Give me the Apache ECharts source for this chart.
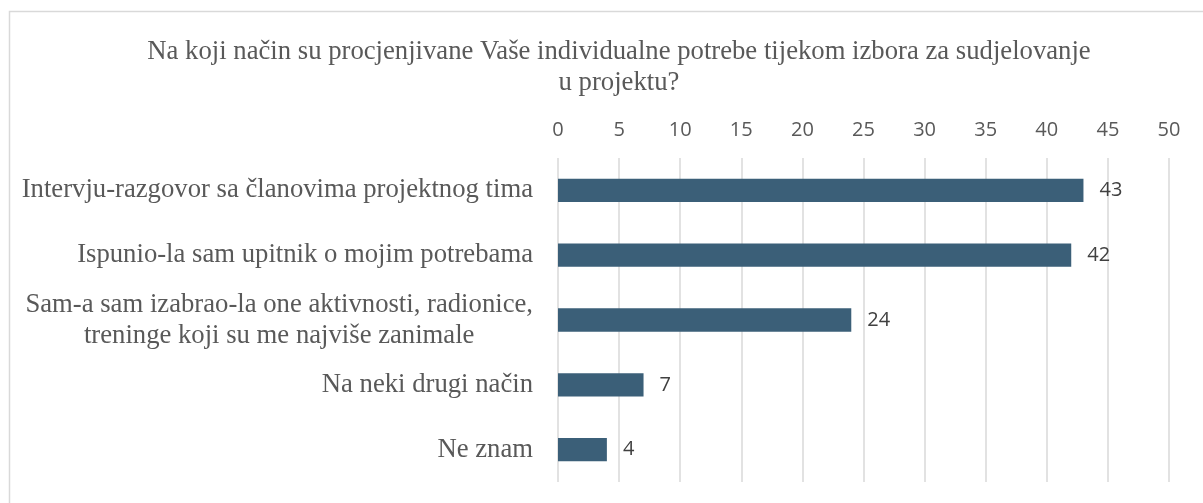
<!DOCTYPE html>
<html><head><meta charset="utf-8">
<script src="https://cdn.jsdelivr.net/npm/echarts@6/dist/echarts.min.js"></script>
<style>html,body{margin:0;padding:0;background:#fff}#c{width:1203px;height:503px}</style>
</head><body><div id="c"></div>
<script>
const titleText = 'Na koji način su procjenjivane Vaše individualne potrebe tijekom izbora za sudjelovanje\nu projektu?';
const categories = [
  'Intervju-razgovor sa članovima projektnog tima',
  'Ispunio-la sam upitnik o mojim potrebama',
  'Sam-a sam izabrao-la one aktivnosti, radionice,\ntreninge koji su me najviše zanimale',
  'Na neki drugi način',
  'Ne znam'
];
const values = [43, 42, 24, 7, 4];
const axisMin = 0, axisMax = 50, axisInterval = 5;

const chart = echarts.init(document.getElementById('c'));
chart.setOption({
  backgroundColor: '#fff',
  animation: false,
  graphic: [{
    type: 'rect', left: 7, top: 9,
    shape: { width: 1300, height: 600 },
    style: { fill: 'none', stroke: '#D9D9D9', lineWidth: 1.5 }
  }],
  title: {
    text: titleText,
    left: 614, top: 31, textAlign: 'center',
    textStyle: { fontFamily: 'Liberation Serif', fontSize: 26.7, fontWeight: 'normal', color: '#595959', lineHeight: 31 }
  },
  grid: { left: 558, right: 34, top: 158, bottom: 21, containLabel: false },
  xAxis: {
    type: 'value', position: 'top', min: axisMin, max: axisMax, interval: axisInterval,
    axisLine: { show: false }, axisTick: { show: false },
    splitLine: { lineStyle: { color: '#D9D9D9', width: 1.5 } },
    axisLabel: { fontFamily: 'Open Sans', fontSize: 20, color: '#595959', margin: 18 }
  },
  yAxis: {
    type: 'category', inverse: true, data: categories,
    axisLine: { show: false }, axisTick: { show: false },
    axisLabel: {
      margin: 25,
      formatter: v => v.split('\n').map(l => '{c|' + l + '}').join('\n'),
      rich: { c: { fontFamily: 'Liberation Serif', fontSize: 26.7, color: '#595959', align: 'center', lineHeight: 31 } }
    }
  },
  series: [{
    type: 'bar', data: values, barCategoryGap: '64%',
    itemStyle: { color: '#3B5F78' },
    label: { show: true, position: 'right', distance: 16, fontFamily: 'Open Sans', fontSize: 20, color: '#404040' }
  }]
});
</script></body></html>
